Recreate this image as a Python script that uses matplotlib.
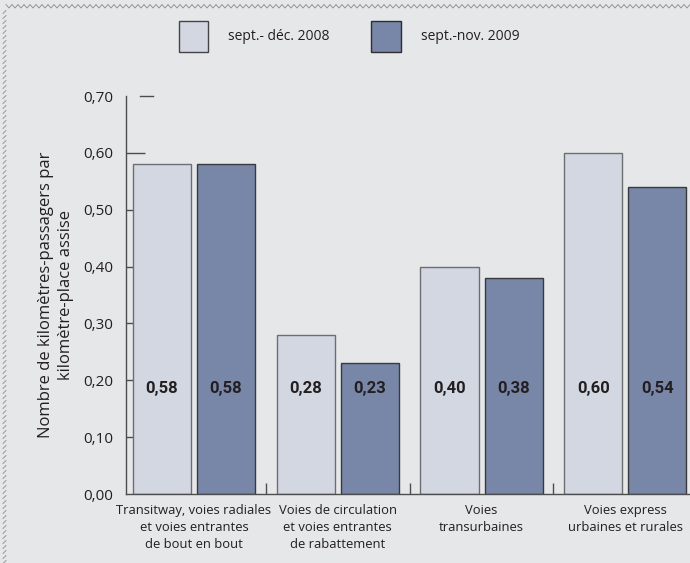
import matplotlib
matplotlib.use("Agg")
import matplotlib.pyplot as plt
import numpy as np
from matplotlib.patches import Rectangle
from matplotlib.lines import Line2D

categories = [
    "Transitway, voies radiales\net voies entrantes\nde bout en bout",
    "Voies de circulation\net voies entrantes\nde rabattement",
    "Voies\ntransurbaines",
    "Voies express\nurbaines et rurales",
]
series_names = ["sept.- déc. 2008", "sept.-nov. 2009"]
values_2008 = [0.58, 0.28, 0.40, 0.60]
values_2009 = [0.58, 0.23, 0.38, 0.54]
yticks = [0.0, 0.1, 0.2, 0.3, 0.4, 0.5, 0.6, 0.7]
ylabel = "Nombre de kilomètres-passagers par\nkilomètre-place assise"

BG = "#e6e7e9"
LIGHT = "#d3d7e2"
DARK = "#7886a7"
TXT = "#231f20"
AXC = "#4d4d4f"

plt.rcParams["font.family"] = ["Open Sans", "DejaVu Sans"]

W, H = 690, 563
fig = plt.figure(figsize=(W / 100, H / 100), dpi=100, facecolor=BG)

def fx(px):
    return px / W

def fy(py):
    return 1 - py / H

ax = fig.add_axes([fx(126), fy(494), fx(690) - fx(126), fy(96) - fy(494)])
ax.set_facecolor(BG)

x = np.arange(len(categories))
width = 0.404
offset = 0.223
ax.bar(x - offset, values_2008, width, color=LIGHT, edgecolor="#6d6e71", linewidth=1.0, zorder=2)
ax.bar(x + offset, values_2009, width, color=DARK, edgecolor="#3a3a3c", linewidth=1.0, zorder=2)

for xs, vals in ((x - offset, values_2008), (x + offset, values_2009)):
    for xi, v in zip(xs, vals):
        ax.text(xi, 0.185, f"{v:.2f}".replace(".", ","), ha="center", va="center",
                fontsize=12, fontweight="bold", family=["Roboto", "DejaVu Sans"],
                color=TXT, zorder=3)

ax.set_xlim(-0.473, 3.45)
ax.set_ylim(0, 0.70)

for s in ("top", "right"):
    ax.spines[s].set_visible(False)
for s in ("left", "bottom"):
    ax.spines[s].set_color(AXC)
    ax.spines[s].set_linewidth(1.0)

ax.set_yticks(yticks)
ax.set_yticklabels([f"{t:.2f}".replace(".", ",") for t in yticks], fontsize=11, color=TXT)
ax.tick_params(axis="y", direction="in", length=14, width=1.0, color=AXC, pad=9)
ticks = ax.yaxis.get_major_ticks()
ticks[-1].tick1line.set_visible(False)
ticks[0].tick1line.set_visible(False)
ax.plot([0.025, 0.047], [0.70, 0.70], transform=ax.get_yaxis_transform(),
        color=AXC, lw=1.0, clip_on=False)

# separators between category groups
ax.set_xticks([0.5, 1.5, 2.5])
ax.set_xticklabels([])
ax.tick_params(axis="x", direction="in", length=8, width=1.0, color=AXC)

for xi, lab in zip(x, categories):
    ax.text(xi, -0.017, lab, ha="center", va="top", fontsize=9.4, color=TXT,
            linespacing=1.42)

ax.set_ylabel(ylabel, fontsize=12, color=TXT, labelpad=7, linespacing=1.3)

# legend
for (px0, px1, col, ec), name, tx in (
    ((179, 208, LIGHT, "#444446"), series_names[0], 228),
    ((371, 401, DARK, "#2e2e30"), series_names[1], 421),
):
    fig.patches.append(Rectangle((fx(px0), fy(52)), fx(px1) - fx(px0), fy(21) - fy(52),
                                 transform=fig.transFigure, facecolor=col, edgecolor=ec, lw=1.0))
    fig.text(fx(tx), fy(37), name, ha="left", va="center", fontsize=10, color=TXT)

# zigzag frame along the top and left edges
zx = np.arange(6, W + 6, 3.0)
zy = np.where(np.arange(len(zx)) % 2 == 0, 4.5, 8.0)
fig.add_artist(Line2D(fx(zx), fy(zy), transform=fig.transFigure, color="#8a8a8c", lw=0.6))
for yy in np.arange(12, H, 5.0):
    fig.add_artist(Line2D([fx(3), fx(6)], [fy(yy + 1.5), fy(yy - 1.5)],
                          transform=fig.transFigure, color="#8a8a8c", lw=0.6))

fig.savefig("out.png", dpi=100, facecolor=BG)
